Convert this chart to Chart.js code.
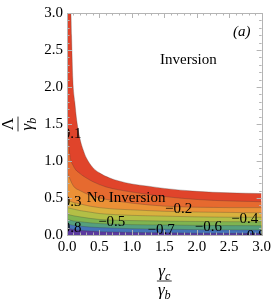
<!DOCTYPE html>
<html>
<head>
<meta charset="utf-8">
<script src="https://cdn.jsdelivr.net/npm/chart.js@4.4.1/dist/chart.umd.min.js"></script>
<style>
html,body{margin:0;padding:0;background:#fff;}
#wrap{width:274px;height:306px;position:relative;}
</style>
</head>
<body>
<div id="wrap"><canvas id="c"></canvas></div>
<script>
// ---- data: contour lines of the plotted quantity (level -> curve y(x)) ----
const levels = ["0", "−0.1", "−0.2", "−0.3", "−0.4", "−0.5", "−0.6", "−0.7", "−0.8"];
const c0X  = [0, 0.06, 0.07, 0.09, 0.12, 0.15, 0.2, 0.25, 0.3, 0.4, 0.5, 0.66, 0.8, 1.0, 1.25, 1.5, 2.0, 2.5, 3.0];
const c0Y  = [3.0, 3.0, 2.7, 2.1, 1.8, 1.55, 1.3, 1.15, 1.04, 0.91, 0.84, 0.77, 0.73, 0.69, 0.66, 0.63, 0.59, 0.57, 0.56];
const c1X  = [0, 0.015, 0.04, 0.1, 0.2, 0.3, 0.4, 0.6, 0.8, 1.0, 1.5, 2.0, 2.5, 3.0];
const c1Y  = [1.6, 1.37, 1.1, 0.93, 0.83, 0.77, 0.72, 0.65, 0.61, 0.58, 0.52, 0.48, 0.46, 0.45];
const cLowX = [0, 0.1, 0.2, 0.35, 0.5, 0.75, 1.0, 1.5, 2.0, 2.5, 3.0];
const c2Y  = [0.85, 0.66, 0.6, 0.54, 0.5, 0.46, 0.43, 0.39, 0.375, 0.37, 0.37];
const c3Y  = [0.47, 0.44, 0.42, 0.39, 0.37, 0.35, 0.34, 0.32, 0.31, 0.305, 0.30];
const c4Y  = [0.37, 0.35, 0.33, 0.31, 0.29, 0.275, 0.265, 0.255, 0.245, 0.24, 0.24];
const c5Y  = [0.28, 0.26, 0.245, 0.225, 0.21, 0.2, 0.195, 0.188, 0.183, 0.18, 0.18];
const c6Y  = [0.21, 0.19, 0.18, 0.165, 0.155, 0.145, 0.14, 0.135, 0.13, 0.127, 0.125];
const c7Y  = [0.15, 0.13, 0.12, 0.108, 0.1, 0.092, 0.085, 0.078, 0.072, 0.069, 0.067];
const c8Y  = [0.09, 0.075, 0.065, 0.053, 0.045, 0.04, 0.035, 0.03, 0.025, 0.022, 0.02];
const xTicks = [0, 0.5, 1, 1.5, 2, 2.5, 3];
const yTicks = [0, 0.5, 1, 1.5, 2, 2.5, 3];
// contour labels: [text, x, y]
const contourLabels = [
  ["−0.1", 0.015, 1.37], ["−0.3", 0.015, 0.45], ["−0.8", 0.015, 0.09],
  ["−0.5", 0.69, 0.17], ["−0.2", 1.72, 0.35], ["−0.7", 1.45, 0.067],
  ["−0.6", 2.18, 0.107], ["−0.4", 2.74, 0.21], ["−0.8", 2.85, -0.01]
];
const regionLabels = [["Inversion", 1.87, 2.36], ["No Inversion", 0.91, 0.5]];

// band colours, top (0..-0.1) to bottom (< -0.8)
const bandColors = ["#e0442b", "#e66a2f", "#eb9136", "#d8b23e", "#b3bf46", "#7fb450", "#55a07d", "#4473b8", "#5b3a9e"];

const curves = [
  [c0X, c0Y], [c1X, c1Y], [cLowX, c2Y], [cLowX, c3Y], [cLowX, c4Y],
  [cLowX, c5Y], [cLowX, c6Y], [cLowX, c7Y], [cLowX, c8Y]
];
const pts = (xs, ys) => xs.map((x, i) => ({x: x, y: ys[i]}));

// draw order: dataset with lowest level on top
const datasets = curves.map((c, i) => ({
  label: levels[i],
  data: pts(c[0], c[1]),
  backgroundColor: bandColors[i],
  borderColor: "rgba(60,60,60,0.35)",
  borderWidth: 0.8,
  pointRadius: 0,
  fill: "start",
  cubicInterpolationMode: "monotone",
  order: curves.length - i
})).reverse();

const SERIF = "'Liberation Serif','DejaVu Serif',serif";

function drawFrac(ctx, cx, cy, numParts, denParts, size) {
  // parts: [text, italic, sub]
  function measure(parts) {
    let w = 0;
    for (const p of parts) {
      ctx.font = (p[1] ? "italic " : "") + (p[2] ? size * 0.72 : size) + "px " + SERIF;
      w += ctx.measureText(p[0]).width;
    }
    return w;
  }
  function draw(parts, x0, base) {
    let x = x0;
    for (const p of parts) {
      ctx.font = (p[1] ? "italic " : "") + (p[2] ? size * 0.72 : size) + "px " + SERIF;
      ctx.fillText(p[0], x, base + (p[2] ? size * 0.22 : 0));
      x += ctx.measureText(p[0]).width;
    }
  }
  const wn = measure(numParts), wd = measure(denParts);
  const w = Math.max(wn, wd) + 2;
  ctx.fillStyle = "#000";
  ctx.textAlign = "left";
  ctx.textBaseline = "alphabetic";
  draw(numParts, cx - wn / 2, cy - 5);
  draw(denParts, cx - wd / 2, cy + size * 0.85);
  ctx.strokeStyle = "#000";
  ctx.lineWidth = 0.8;
  ctx.beginPath();
  ctx.moveTo(cx - w / 2, cy);
  ctx.lineTo(cx + w / 2, cy);
  ctx.stroke();
}

const overlay = {
  id: "overlay",
  afterDatasetsDraw(chart) {
    const ctx = chart.ctx, a = chart.chartArea;
    const xs = chart.scales.x, ys = chart.scales.y;
    // contour labels (clipped)
    ctx.save();
    ctx.beginPath();
    ctx.rect(a.left, a.top, a.right - a.left, a.bottom - a.top);
    ctx.clip();
    ctx.fillStyle = "#000";
    ctx.font = "15px " + SERIF;
    ctx.textAlign = "center";
    ctx.textBaseline = "middle";
    for (const l of contourLabels) {
      ctx.fillText(l[0], xs.getPixelForValue(l[1]), ys.getPixelForValue(l[2]));
    }
    for (const l of regionLabels) {
      ctx.fillText(l[0], xs.getPixelForValue(l[1]), ys.getPixelForValue(l[2]));
    }
    ctx.font = "italic 15px " + SERIF;
    ctx.fillText("(a)", a.right - 20, a.top + 19);
    ctx.restore();

    // frame and ticks
    ctx.save();
    ctx.strokeStyle = "#b4b4b4";
    ctx.lineWidth = 1;
    ctx.strokeRect(Math.round(a.left) + 0.5, Math.round(a.top) + 0.5, Math.round(a.right - a.left), Math.round(a.bottom - a.top));
    ctx.beginPath();
    for (let k = 0; k <= 30; k++) {
      const v = k / 10;
      const major = k % 5 === 0;
      const L = major ? 5 : 2.5;
      const px = Math.round(xs.getPixelForValue(v)) + 0.5;
      const py = Math.round(ys.getPixelForValue(v)) + 0.5;
      ctx.moveTo(px, a.top); ctx.lineTo(px, a.top + L);
      ctx.moveTo(px, a.bottom); ctx.lineTo(px, a.bottom - L);
      ctx.moveTo(a.left, py); ctx.lineTo(a.left + L, py);
      ctx.moveTo(a.right, py); ctx.lineTo(a.right - L, py);
    }
    ctx.stroke();
    ctx.restore();

    // axis titles
    ctx.save();
    drawFrac(ctx, (a.left + a.right) / 2, 281, [["γ", true, false], ["c", true, true]], [["γ", true, false], ["b", true, true]], 17);
    ctx.translate(18, (a.top + a.bottom) / 2);
    ctx.rotate(-Math.PI / 2);
    drawFrac(ctx, 0, 0, [["Λ", false, false]], [["γ", true, false], ["b", true, true]], 17);
    ctx.restore();
  }
};

new Chart(document.getElementById("c"), {
  type: "line",
  data: { datasets: datasets },
  options: {
    responsive: true,
    maintainAspectRatio: false,
    animation: false,
    layout: { padding: { left: 0, top: 11, right: 12, bottom: 0 } },
    plugins: { legend: { display: false }, tooltip: { enabled: false } },
    scales: {
      x: {
        type: "linear", min: 0, max: 3,
        afterBuildTicks: s => { s.ticks = xTicks.map(v => ({value: v})); },
        afterFit: s => { s.height = 71; },
        grid: { display: false, drawTicks: false },
        border: { display: false },
        ticks: { color: "#000", padding: 3, maxRotation: 0, font: { family: SERIF, size: 15 }, callback: v => Number(v).toFixed(1) }
      },
      y: {
        type: "linear", min: 0, max: 3,
        afterBuildTicks: s => { s.ticks = yTicks.map(v => ({value: v})); },
        afterFit: s => { s.width = 67; },
        grid: { display: false, drawTicks: false },
        border: { display: false },
        ticks: { color: "#000", padding: 4, font: { family: SERIF, size: 15 }, callback: v => Number(v).toFixed(1) }
      }
    }
  },
  plugins: [overlay]
});
</script>
</body>
</html>
